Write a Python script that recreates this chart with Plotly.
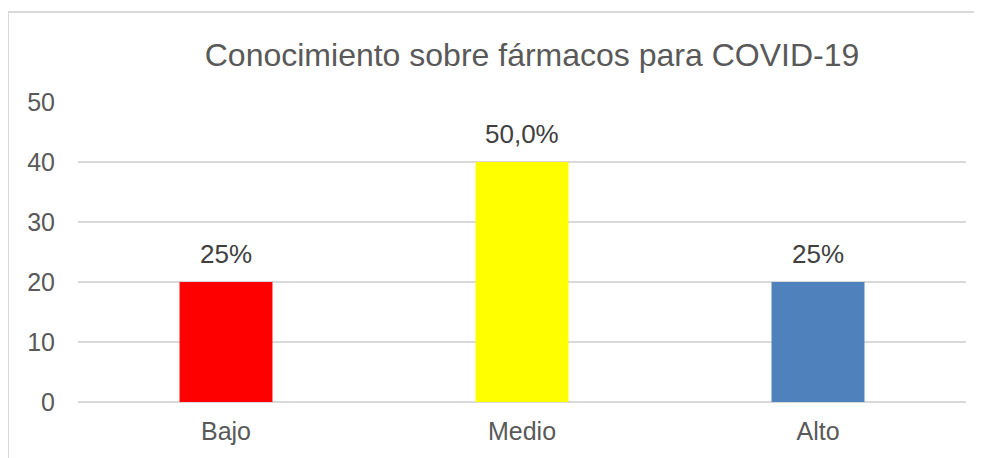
import plotly.graph_objects as go

categories = ["Bajo", "Medio", "Alto"]
values = [20, 40, 20]
value_labels = ["25%", "50,0%", "25%"]
bar_colors = ["#FF0000", "#FFFF00", "#4F81BD"]
y_ticks = [0, 10, 20, 30, 40, 50]

fig = go.Figure(
    go.Bar(
        x=categories,
        y=values,
        marker={"color": bar_colors, "line": {"width": 0}},
        hoverinfo="x+y",
    )
)

# value labels above the bars
for cat, val, lab in zip(categories, values, value_labels):
    fig.add_annotation(
        x=cat,
        y=val,
        text=lab,
        showarrow=False,
        yanchor="bottom",
        yshift=11,
        font={"size": 26, "color": "#404040", "family": "Liberation Sans"},
    )

# outer chart border (only left and top visible in the reference)
fig.add_shape(type="line", xref="paper", yref="paper", x0=-0.0788, x1=-0.0788, y0=-0.3, y1=1.3,
              line={"color": "#D9D9D9", "width": 2})
fig.add_shape(type="line", xref="paper", yref="paper", x0=-0.0788, x1=1.03, y0=1.3, y1=1.3,
              line={"color": "#D9D9D9", "width": 2})

fig.update_layout(
    width=974,
    height=450,
    margin={"l": 70, "r": 16, "t": 94, "b": 56},
    paper_bgcolor="white",
    plot_bgcolor="white",
    font={"family": "Liberation Sans", "color": "#595959", "size": 25},
    title={
        "text": "Conocimiento sobre fármacos para COVID-19",
        "x": 0.538,
        "xanchor": "center",
        "y": 0.896,
        "yanchor": "middle",
        "font": {"size": 32, "color": "#595959"},
    },
    bargap=0.686,
    showlegend=False,
    xaxis={"showgrid": False, "showline": False, "ticks": "", "ticklabelstandoff": 12},
    yaxis={
        "range": [0, 50],
        "tickvals": y_ticks,
        "showgrid": True,
        "gridcolor": "#D9D9D9",
        "gridwidth": 2,
        "zeroline": True,
        "zerolinecolor": "#D9D9D9",
        "zerolinewidth": 2,
        "ticks": "",
        "ticklabelstandoff": 22,
    },
)

fig.write_html("out.html")
